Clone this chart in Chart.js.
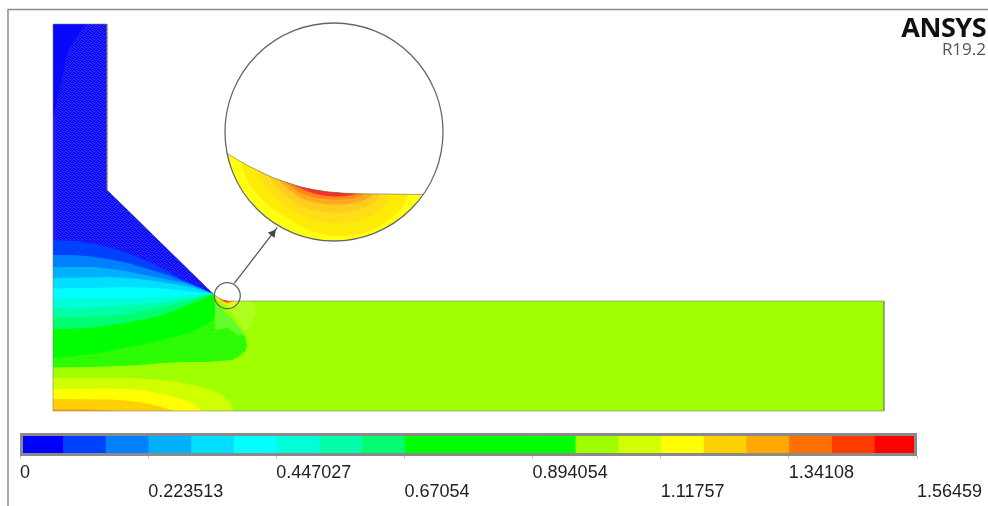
<!DOCTYPE html>
<html><head><meta charset="utf-8">
<style>
html,body{margin:0;padding:0;background:#fff;width:988px;height:506px;overflow:hidden}
#main{position:absolute;left:0;top:0}
#bar{position:absolute;left:0;top:430px}
.t{position:absolute;white-space:nowrap;font-family:"Open Sans",sans-serif}
</style>
<script src="https://cdn.jsdelivr.net/npm/chart.js@4/dist/chart.umd.min.js"></script>
</head><body>
<canvas id="main" width="988" height="506"></canvas>
<canvas id="bar" width="988" height="76"></canvas>
<div class="t" style="right:2px;top:8px;font-size:27px;font-weight:700;color:#111;letter-spacing:-.5px">ANSYS</div>
<div class="t" style="right:2px;top:37px;font-size:17px;color:#555">R19.2</div>
<script>
// ---- colour legend
const bandColors=['#0000ff','#0040ff','#0080ff','#00b0ff','#00dfff','#00ffff','#00ffd8','#00ffa8','#00ff70','#00ff00','#00ff00','#00ff00','#00ff00','#9fff00','#d0ff00','#ffff00','#ffd000','#ffa800','#ff7000','#ff3c00','#ff0000'];
const bandWidths=[0.0745,0.0745,0.0745,0.0745,0.0745,0.0745,0.0745,0.0745,0.0745,0.0745,0.0745,0.0745,0.0745,0.0745,0.0745,0.0745,0.0745,0.0745,0.0745,0.0745,0.0745];
const tickValues=[0,0.223513,0.447027,0.67054,0.894054,1.11757,1.34108,1.56459];
const tickLabels=['0','0.223513','0.447027','0.67054','0.894054','1.11757','1.34108','1.56459'];
// ---- geometry (chart units)
const domain=[[53,24],[107,24],[107,190],[213.3,294],[216,296],[219,298],[223,300],[228,301],[241,301],[884,301],[884,411],[53,411]];
const blueBase=[[53,24],[107,24],[107,190],[213.3,294],[190,320],[53,335]];
const blueMottle=[[68,50],[85,24],[107,24],[107,190],[213.3,294],[178,277],[145,260],[112,248],[78,241],[53,240],[53,120]];
const tip=[213.3,294];
const curve1=[[53,240],[78,241],[95,244],[112,248],[128,253],[145,260],[162,268],[178,277],[195,285],tip];
const curve2=[[53,255],[70,255],[88,256],[108,259],[128,263],[148,269],[168,275],[195,286],tip];
const curve3=[[53,267],[95,267],[120,270],[145,275],[165,279],[185,283],[200,288],tip];
const curve4=[[53,278],[85,277.5],[112,277],[140,279],[162,282],[195,288],tip];
const curve5=[[53,288.5],[90,288],[128,287],[155,288],[178,290],tip];
const curve6=[[53,298.5],[90,298],[130,297.5],[160,297],[180,296],tip];
const curve7=[[53,308],[90,307.5],[120,306],[148,304],[170,301],[192,298],tip];
const curve8=[[53,318],[90,317],[120,315],[148,310],[170,305],[190,300],[205,296],tip];
const curve9=[[53,329],[80,328.5],[100,327],[132,322],[160,316],[182,308],[200,300],tip];
const ditherEdge=[[214,305],[217,312],[223,318],[230,323],[237,328],[243,333],[246,339],[247,345],[246,350],[243,353],[238,357],[232,360],[220,361],[205,362],[185,362],[162,363],[140,365],[122,366],[88,367],[53,367.5]];
const pureEdge=[[216,310],[213,320],[203,326],[190,333],[170,338],[150,343],[125,348],[100,353],[75,356],[53,358]];
const lightGreen=[[215,303],[223,310],[232,318],[240,328],[245,335],[238,335],[228,328],[215,330]];
const paleGreen=[[238,301],[253,302],[256,312],[252,323],[245,332],[238,320],[228,308],[222,301]];
const paleYellow=[[224,301],[241,301],[239,306],[232,308],[227,306]];
const bottomD0=[[53,378],[128,378],[155,379.5],[178,382],[196,385.5],[212,390],[222,395],[228,400],[232,405],[233,411],[53,411]];
const bottomFF=[[53,389],[112,388.5],[135,389.5],[152,392],[170,396],[185,400],[195,405],[202,411],[53,411]];
const bottomD0a=[[53,399],[112,399.5],[130,401],[145,403],[160,406.5],[175,411],[53,411]];
const bottomA8=[[53,409],[80,409],[120,411],[53,411]];
const notchYellow=[[214.5,295.5],[218,300],[224,304],[232,305],[239,301],[228,301],[223,300],[219,298]];
const notchOrange=[[218,298],[222,301.5],[228,303.5],[234,301],[228,301],[223,300]];
const notchRed=[[222,299.6],[226,302],[231,301],[228,301]];
// ---- magnified view
const magTop=[[227.2,153.5],[238,160],[250,166.7],[262,172.5],[273,177.7],[286,182.2],[300,186.7],[313,189.5],[326.7,191.7],[342,193],[357,193.7],[423.3,194.5]];
const magArc=[[411.1,209.1],[396.5,221.3],[380.1,230.8],[362.2,237.3],[343.5,240.6],[324.5,240.6],[305.8,237.3],[287.9,230.8],[271.5,221.3],[256.9,209.1],[244.7,194.5],[235.2,178.1],[228.7,160.2]];
const magL1=[[241.7,162],[245,175],[250,185],[258,195],[269,206],[282,215],[295,223],[308,230],[325,235],[342,236.5],[360,234.5],[375,229],[390,219],[402,208],[408,194.5]];
const magL2=[[258,170],[263,182],[270,191],[278,200],[289,208],[302,215],[315,220],[328,223],[342,223.5],[355,222],[367,218],[377,213],[387,203],[388,194.5]];
const magL3=[[268,175.5],[277,187],[284,194],[292,200],[302,206],[312,210],[323,212],[335,213],[347,212],[358,210],[368,206],[375,202],[380,194.5]];
const magL4=[[277,179],[287,188],[296,195],[305,200],[315,202.5],[325,204],[337,204.5],[348,204],[358,202],[365,200],[373,194.5]];
const magL5=[[283,181],[292,187],[300,193],[312,197],[325,199],[337,199.5],[350,199],[358,197],[365,194]];
const magRed=[[292,184.3],[302,189],[312,193],[323,195.5],[335,196.5],[346,196],[357,194]];
const bigCircle=[[334,132,109]];
const smallCircle=[[227.3,295.7,13]];
const leader=[[234.3,283.3],[277.3,227.3]];
const arrowHead=[[272.7,233.5]];
const frame=[[8,506],[8,9.5],[988,9.5]];

// speckled fill for the mesh-noise zones of the contour plot
const speckleMask=[1,0,0,1,0,0,1,0, 0,1,0,0,1,0,0,1, 0,0,1,1,0,1,0,0, 1,0,1,0,0,0,1,1, 0,1,0,0,1,1,0,0, 1,0,0,1,0,0,1,0, 0,0,1,0,1,0,0,1, 0,1,1,0,0,1,1,0];
function speckle(a,b){
  const c=document.createElement('canvas');c.width=c.height=8;
  const g=c.getContext('2d');
  speckleMask.forEach((m,i)=>{g.fillStyle=m?b:a;g.fillRect(i%8,Math.floor(i/8),1,1);});
  return document.getElementById('main').getContext('2d').createPattern(c,'repeat');
}
const pts=a=>a.map(p=>({x:p[0],y:p[1]}));
const sets=[];
function poly(a,color){sets.push({data:pts(a),showLine:true,fill:'shape',backgroundColor:color,borderColor:'transparent',borderWidth:0,pointRadius:0,tension:0});}
function stroke(a,color,w){sets.push({data:pts(a),showLine:true,fill:false,borderColor:color,borderWidth:w,pointRadius:0,tension:0});}
function level(curve,color){poly(curve.concat([[190,320],[53,335]]),color);}
function magBand(curve,color){
  const a=curve[0][0],b=curve[curve.length-1][0];
  poly(curve.concat(magTop.filter(p=>p[0]>a&&p[0]<b).reverse()),color);
}
poly(domain,'#a0ff00');
poly(blueBase,speckle('#0000ff','#1010ff'));
poly(blueMottle,speckle('#0808ff','#3030f4'));
[[curve1,'#0040ff'],[curve2,'#0080ff'],[curve3,'#00b0ff'],[curve4,'#00dfff'],[curve5,'#00ffff'],[curve6,'#00ffd8'],[curve7,'#00ffa8'],[curve8,'#00ff70']].forEach(l=>level(l[0],l[1]));
poly(curve9.concat(ditherEdge),speckle('#14ff00','#50ff00'));
poly(curve9.concat(pureEdge),'#00ff00');
poly(paleGreen,'#aeff20');
poly(lightGreen,speckle('#58ff28','#70ff30'));
poly(paleYellow,'#d8ff20');
poly(bottomD0,'#d0ff00');
poly(bottomFF,'#ffff00');
poly(bottomD0a,'#ffd000');
poly(bottomA8,'#ffa800');
poly(notchYellow,'#f4ef10');
poly(notchOrange,'#ff9a18');
poly(notchRed,'#f03020');
stroke(domain.concat([domain[0]]),'rgba(120,120,110,.55)',1);
poly(magTop.concat(magArc),'#ffff10');
magBand(magL1,'#ffea08');
magBand(magL2,'#ffde18');
magBand(magL3,'#ffcc20');
magBand(magL4,'#ffa820');
magBand(magL5,'#ff8818');
magBand(magRed,'#f43030');
stroke(magTop,'rgba(110,110,90,.6)',1);
stroke(leader,'#555',1.3);
sets.push({data:pts(arrowHead),showLine:false,pointStyle:'triangle',pointRadius:5,pointRotation:37.5,backgroundColor:'#444',borderColor:'#444',borderWidth:0});
stroke(frame,'#8c8c8c',1.5);
sets.forEach((s,i)=>{s.order=-i;s.clip=false;});

const circles={id:'circles',afterDatasetsDraw(c){
  const g=c.ctx,xs=c.scales.x,ys=c.scales.y;
  g.save();g.strokeStyle='#666';g.lineWidth=1.3;
  bigCircle.concat(smallCircle).forEach(p=>{
    g.beginPath();
    g.arc(xs.getPixelForValue(p[0]),ys.getPixelForValue(p[1]),Math.abs(xs.getPixelForValue(p[0]+p[2])-xs.getPixelForValue(p[0])),0,Math.PI*2);
    g.stroke();
  });
  g.restore();
}};
// the arrow head's radius insets the plot area by 5 units, so the axes start 5 units in
new Chart(document.getElementById('main'),{type:'scatter',plugins:[circles],data:{datasets:sets},options:{
  responsive:false,animation:false,events:[],layout:{padding:0},
  plugins:{legend:{display:false},tooltip:{enabled:false}},
  scales:{x:{type:'linear',display:false,min:5,max:983},y:{type:'linear',display:false,min:5,max:501,reverse:true}}
}});

const frameBox={id:'frameBox',afterDatasetsDraw(c){const a=c.chartArea,g=c.ctx;g.save();g.strokeStyle='#8a8a8a';g.lineWidth=3;g.strokeRect(a.left+1.5,a.top+1.5,a.width-3,a.height-3);g.restore();}};
new Chart(document.getElementById('bar'),{type:'bar',plugins:[frameBox],
  data:{labels:['v'],datasets:bandWidths.map((w,i)=>({data:[w],backgroundColor:bandColors[i],borderWidth:0,stack:'s',barPercentage:1,categoryPercentage:1}))},
  options:{indexAxis:'y',responsive:false,animation:false,events:[],
    layout:{padding:{left:20,right:71,top:3,bottom:0}},
    plugins:{legend:{display:false},tooltip:{enabled:false}},
    scales:{
      y:{display:false,stacked:true},
      x:{stacked:true,min:0,max:1.56459,position:'bottom',
        afterBuildTicks(s){s.ticks=tickValues.map(v=>({value:v}));},
        afterFit(s){s.height=50;s.paddingLeft=0;s.paddingRight=0;},
        border:{display:false},
        grid:{display:true,drawOnChartArea:false,drawTicks:true,tickLength:3,color:'#c8c8c8'},
        ticks:{autoSkip:false,maxRotation:0,minRotation:0,align:'start',padding:5,color:'#222',
          font:{family:'"Liberation Sans"',size:18,lineHeight:1.02},
          callback(v,i){return i%2===0?[tickLabels[i],'']:['',tickLabels[i]];}}
      }
    }
  }});
</script>
</body></html>
